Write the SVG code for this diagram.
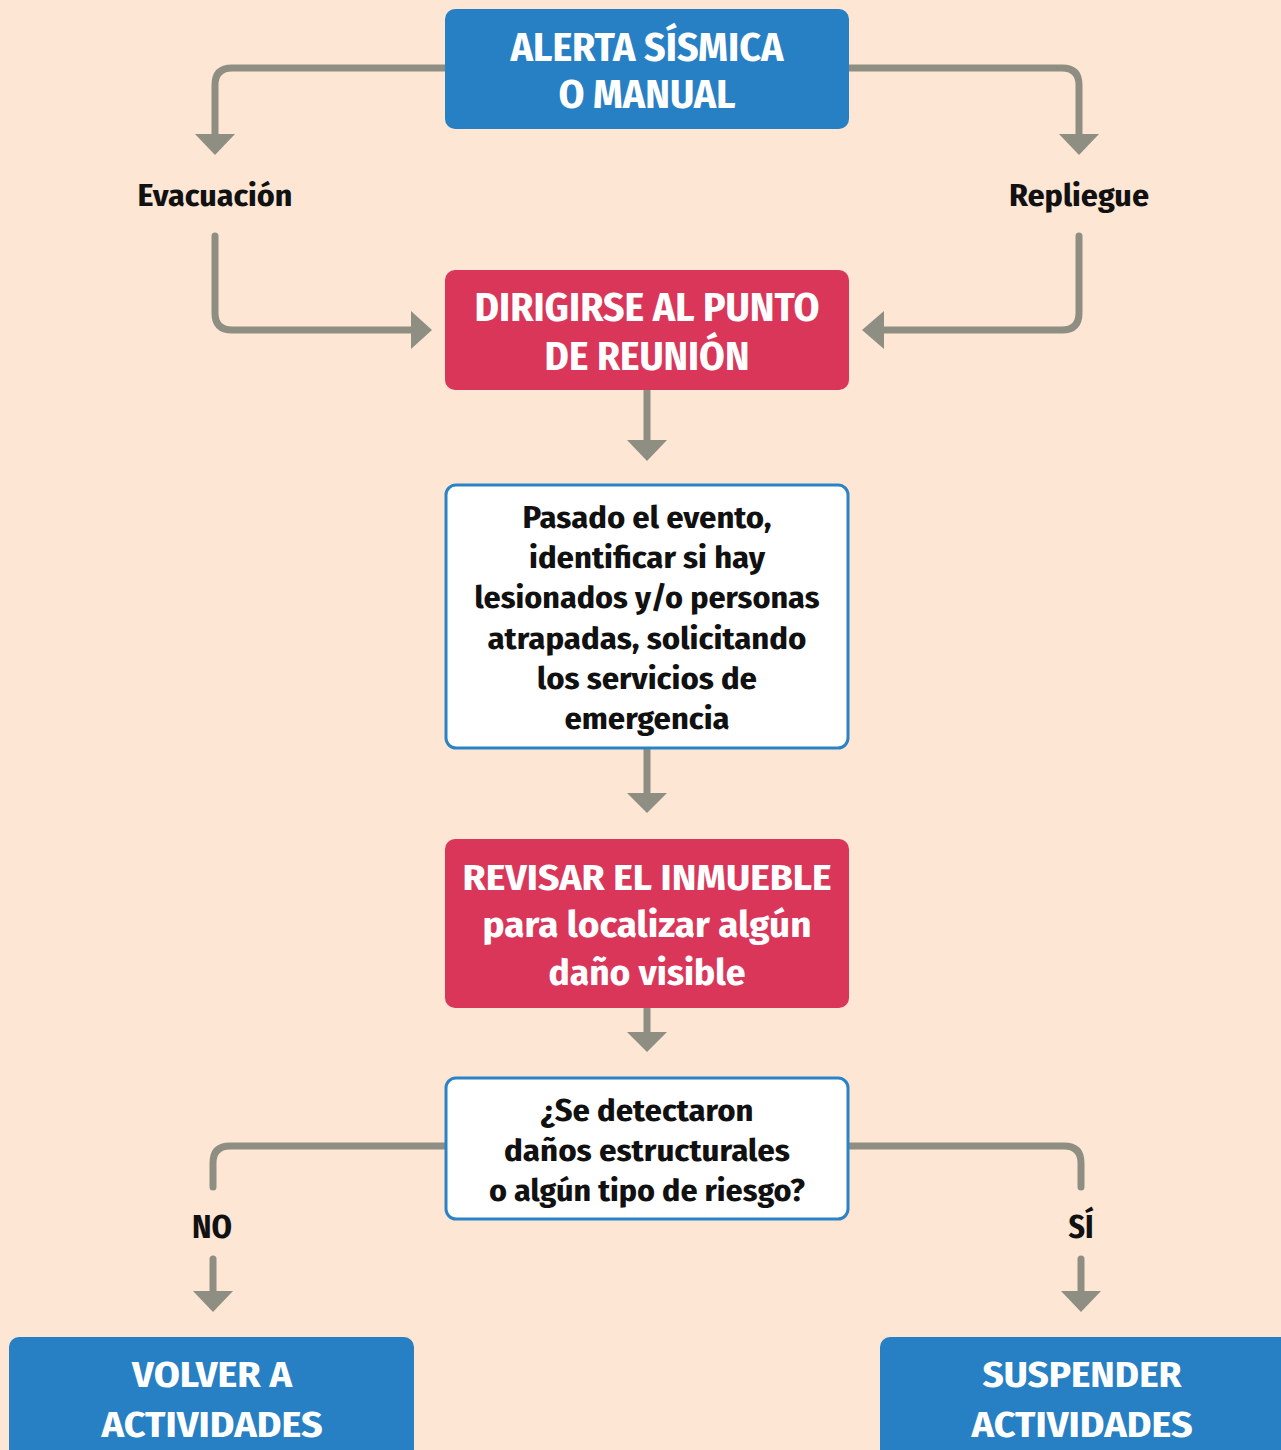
<svg xmlns="http://www.w3.org/2000/svg" width="1281" height="1450" viewBox="0 0 1281 1450">
<style>
.bg{fill:#FDE6D4}
.blue{fill:#2880C4}
.red{fill:#D9365A}
.wbox{fill:#FFFFFF;stroke:#2A83C6;stroke-width:3}
.conn{fill:none;stroke:#8F8E83;stroke-width:7;stroke-linecap:round;stroke-linejoin:round}
.head{fill:#8F8E83}
text{font-family:"Fira Sans Condensed","Liberation Sans Narrow","DejaVu Sans Condensed","Liberation Sans",sans-serif;font-weight:bold;text-anchor:middle}
.tw{fill:#FFFFFF;font-size:40px}
.tb{fill:#111111;font-size:30px}
.tl{fill:#111111;font-size:30px}
.tbig{fill:#FFFFFF;font-size:37px}
</style>
<rect class="bg" x="0" y="0" width="1281" height="1450"/>
<g id="connectors">
  <path class="conn" d="M 450 68 H 232 Q 215 68 215 85 V 136"/>
  <polygon class="head" points="195,134 235,134 215,155"/>
  <path class="conn" d="M 844 68 H 1062 Q 1079 68 1079 85 V 136"/>
  <polygon class="head" points="1059,134 1099,134 1079,155"/>
  <path class="conn" d="M 215 236 V 313 Q 215 330 232 330 H 413"/>
  <polygon class="head" points="411,311 411,349 432,330"/>
  <path class="conn" d="M 1079 236 V 313 Q 1079 330 1062 330 H 883"/>
  <polygon class="head" points="884,311 884,349 862,330"/>
  <path class="conn" d="M 647 385 V 442"/>
  <polygon class="head" points="627,440 667,440 647,461"/>
  <path class="conn" d="M 647 745 V 795"/>
  <polygon class="head" points="627,793 667,793 647,813"/>
  <path class="conn" d="M 647 1003 V 1034"/>
  <polygon class="head" points="627,1032 667,1032 647,1052"/>
  <path class="conn" d="M 450 1146 H 230 Q 213 1146 213 1163 V 1187"/>
  <path class="conn" d="M 213 1259 V 1293"/>
  <polygon class="head" points="193,1291 233,1291 213,1312"/>
  <path class="conn" d="M 844 1146 H 1064 Q 1081 1146 1081 1163 V 1187"/>
  <path class="conn" d="M 1081 1259 V 1293"/>
  <polygon class="head" points="1061,1291 1101,1291 1081,1312"/>
</g>
<g id="alerta">
  <rect class="blue" x="445" y="9" width="404" height="120" rx="10"/>
  <text class="tw" x="647" y="61" textLength="273" lengthAdjust="spacingAndGlyphs">ALERTA SÍSMICA</text>
  <text class="tw" x="647" y="108" textLength="177" lengthAdjust="spacingAndGlyphs">O MANUAL</text>
</g>
<g id="evacuacion">
  <text class="tl" x="215" y="206" textLength="155" lengthAdjust="spacingAndGlyphs">Evacuación</text>
</g>
<g id="repliegue">
  <text class="tl" x="1079" y="206" textLength="140" lengthAdjust="spacingAndGlyphs">Repliegue</text>
</g>
<g id="punto">
  <rect class="red" x="445" y="270" width="404" height="120" rx="10"/>
  <text class="tw" x="647" y="321" textLength="345" lengthAdjust="spacingAndGlyphs">DIRIGIRSE AL PUNTO</text>
  <text class="tw" x="647" y="370" textLength="205" lengthAdjust="spacingAndGlyphs">DE REUNIÓN</text>
</g>
<g id="identificar">
  <rect class="wbox" x="446" y="485" width="402" height="263" rx="10"/>
  <text class="tb" x="647" y="528" textLength="249" lengthAdjust="spacingAndGlyphs">Pasado el evento,</text>
  <text class="tb" x="647" y="568" textLength="236" lengthAdjust="spacingAndGlyphs">identificar si hay</text>
  <text class="tb" x="647" y="608" textLength="345" lengthAdjust="spacingAndGlyphs">lesionados y/o personas</text>
  <text class="tb" x="647" y="649" textLength="319" lengthAdjust="spacingAndGlyphs">atrapadas, solicitando</text>
  <text class="tb" x="647" y="689" textLength="220" lengthAdjust="spacingAndGlyphs">los servicios de</text>
  <text class="tb" x="647" y="729" textLength="165" lengthAdjust="spacingAndGlyphs">emergencia</text>
</g>
<g id="revisar">
  <rect class="red" x="445" y="839" width="404" height="169" rx="10"/>
  <text class="tbig" x="647" y="890" textLength="369" lengthAdjust="spacingAndGlyphs">REVISAR EL INMUEBLE</text>
  <text class="tbig" x="647" y="937" textLength="329" lengthAdjust="spacingAndGlyphs">para localizar algún</text>
  <text class="tbig" x="647" y="985" textLength="197" lengthAdjust="spacingAndGlyphs">daño visible</text>
</g>
<g id="pregunta">
  <rect class="wbox" x="446" y="1078" width="402" height="141" rx="10"/>
  <text class="tb" x="647" y="1121" textLength="213" lengthAdjust="spacingAndGlyphs">¿Se detectaron</text>
  <text class="tb" x="647" y="1161" textLength="286" lengthAdjust="spacingAndGlyphs">daños estructurales</text>
  <text class="tb" x="647" y="1201" textLength="316" lengthAdjust="spacingAndGlyphs">o algún tipo de riesgo?</text>
</g>
<g id="no">
  <text class="tl" x="212" y="1238" style="font-size:32px" textLength="40" lengthAdjust="spacingAndGlyphs">NO</text>
</g>
<g id="si">
  <text class="tl" x="1081" y="1238" style="font-size:32px" textLength="25" lengthAdjust="spacingAndGlyphs">SÍ</text>
</g>
<g id="volver">
  <rect class="blue" x="9" y="1337" width="405" height="130" rx="10"/>
  <text class="tw" x="212" y="1387" style="font-size:37px" textLength="160" lengthAdjust="spacingAndGlyphs">VOLVER A</text>
  <text class="tw" x="212" y="1437" style="font-size:37px" textLength="221" lengthAdjust="spacingAndGlyphs">ACTIVIDADES</text>
</g>
<g id="suspender">
  <rect class="blue" x="880" y="1337" width="420" height="130" rx="10"/>
  <text class="tw" x="1082" y="1387" style="font-size:37px" textLength="199" lengthAdjust="spacingAndGlyphs">SUSPENDER</text>
  <text class="tw" x="1082" y="1437" style="font-size:37px" textLength="221" lengthAdjust="spacingAndGlyphs">ACTIVIDADES</text>
</g>
</svg>
